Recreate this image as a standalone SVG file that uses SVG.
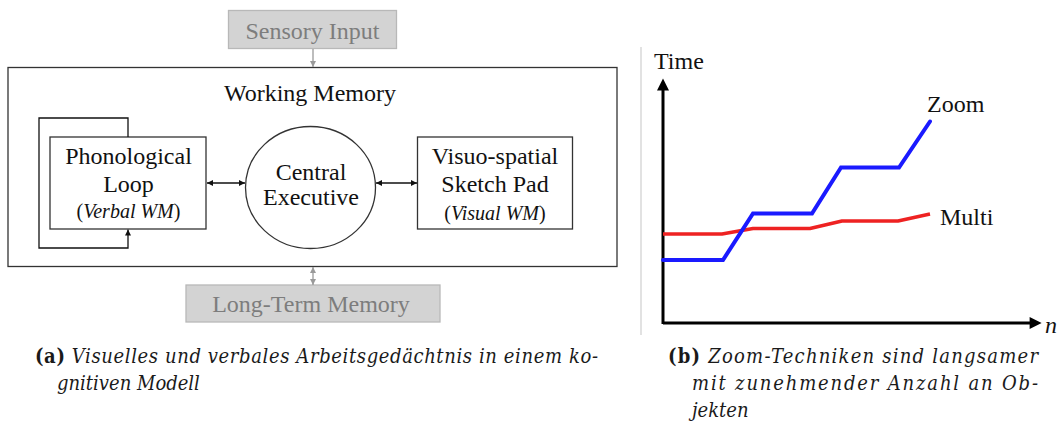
<svg xmlns="http://www.w3.org/2000/svg" width="1062" height="430" viewBox="0 0 1062 430">
  <style>
    .box { fill: #ffffff; stroke: #333333; stroke-width: 1.3; }
    .grey-box { fill: #d3d3d3; stroke: #b8b8b8; stroke-width: 1.3; }
    .lbl { font-family: "Liberation Serif", "Times New Roman", serif; font-size: 24px; fill: #111111; text-anchor: middle; }
    .grey-lbl { font-family: "Liberation Serif", "Times New Roman", serif; font-size: 24px; fill: #7d7d7d; text-anchor: middle; }
    .sub { font-family: "Liberation Serif", "Times New Roman", serif; font-size: 20px; fill: #111111; text-anchor: middle; }
    .it { font-style: italic; }
    .conn { fill: none; stroke: #111111; stroke-width: 1.3; }
    .conn-grey { fill: none; stroke: #9a9a9a; stroke-width: 1.3; }
    .axis { fill: none; stroke: #000000; stroke-width: 3; }
    .plot-lbl { font-family: "Liberation Serif", "Times New Roman", serif; font-size: 24px; fill: #111111; }
    .cap { font-family: "DejaVu Serif Condensed", "DejaVu Serif", serif; font-stretch: condensed; font-size: 20px; fill: #1a1a1a; }
    .cap-b { font-weight: bold; font-style: normal; }
    .cap-i { font-style: italic; }
  </style>
  <defs>
    <marker id="ah" viewBox="0 0 10 10" refX="10" refY="5" markerWidth="6" markerHeight="6" markerUnits="userSpaceOnUse" orient="auto-start-reverse">
      <path d="M0,0 L10,5 L0,10 z" fill="#111111"/>
    </marker>
    <marker id="ah-grey" viewBox="0 0 10 10" refX="10" refY="5" markerWidth="6" markerHeight="6" markerUnits="userSpaceOnUse" orient="auto-start-reverse">
      <path d="M0,0 L10,5 L0,10 z" fill="#9a9a9a"/>
    </marker>
    <marker id="axis-ah" viewBox="0 0 10 10" refX="2" refY="5" markerWidth="14" markerHeight="12" markerUnits="userSpaceOnUse" orient="auto">
      <path d="M0,0 L10,5 L0,10 z" fill="#000000"/>
    </marker>
  </defs>

  <!-- Left panel: working memory model -->
  <g id="working-memory">
    <rect class="box" x="8" y="67.5" width="609" height="199"/>
    <text class="lbl" x="310" y="101">Working Memory</text>
  </g>

  <g id="sensory-input">
    <rect class="grey-box" x="228.5" y="10.5" width="168" height="38"/>
    <text class="grey-lbl" x="312.5" y="39">Sensory Input</text>
  </g>

  <g id="long-term-memory">
    <rect class="grey-box" x="186" y="285" width="254" height="37"/>
    <text class="grey-lbl" x="311" y="312">Long-Term Memory</text>
  </g>

  <g id="phonological-loop">
    <rect class="box" x="50" y="137" width="156" height="92"/>
    <text class="lbl" x="128.5" y="164">Phonological</text>
    <text class="lbl" x="128.5" y="192">Loop</text>
    <text class="sub" x="128.5" y="218">(<tspan class="it">Verbal WM</tspan>)</text>
  </g>

  <g id="central-executive">
    <ellipse class="box" cx="310.5" cy="187.5" rx="65" ry="61"/>
    <text class="lbl" x="311" y="180">Central</text>
    <text class="lbl" x="311" y="205">Executive</text>
  </g>

  <g id="sketch-pad">
    <rect class="box" x="417.5" y="137" width="155" height="92"/>
    <text class="lbl" x="495" y="164">Visuo-spatial</text>
    <text class="lbl" x="495" y="192">Sketch Pad</text>
    <text class="sub" x="495" y="220">(<tspan class="it">Visual WM</tspan>)</text>
  </g>

  <g id="connectors">
    <path class="conn-grey" d="M313,49 V67" marker-end="url(#ah-grey)"/>
    <path class="conn-grey" d="M313,267 V285" marker-start="url(#ah-grey)" marker-end="url(#ah-grey)"/>
    <path class="conn" d="M207,183 H245" marker-start="url(#ah)" marker-end="url(#ah)"/>
    <path class="conn" d="M376,183 H417" marker-start="url(#ah)" marker-end="url(#ah)"/>
    <path class="conn" d="M128,137 V118 H39 V248 H128 V229.5" marker-end="url(#ah)"/>
  </g>

  <!-- Right panel: time over number of objects -->
  <g id="chart">
    <line x1="641" y1="47" x2="641" y2="335" stroke="#cfcfcf" stroke-width="1.2"/>
    <path class="axis" d="M663,324 V88" marker-end="url(#axis-ah)"/>
    <path class="axis" d="M663,323 H1032" marker-end="url(#axis-ah)"/>
    <text class="plot-lbl" x="654" y="69" font-size="22">Time</text>
    <text class="plot-lbl it" x="1045" y="333">n</text>
    <polyline points="663,234 722,234 753,228.5 810,228.5 842,221 898,221 930,214" fill="none" stroke="#ee2222" stroke-width="3.5" stroke-linejoin="round"/>
    <polyline points="663,260 723,260 753,213.5 812,213.5 841,167.5 899,167.5 930,121.5" fill="none" stroke="#1a1aff" stroke-width="4" stroke-linejoin="miter" stroke-linecap="round"/>
    <text class="plot-lbl" x="927" y="112">Zoom</text>
    <text class="plot-lbl" x="940" y="225">Multi</text>
  </g>

  <!-- Captions -->
  <g id="caption-a">
    <text class="cap" x="35" y="363" textLength="563" lengthAdjust="spacing"><tspan class="cap-b">(a)</tspan> <tspan class="cap-i">Visuelles und verbales Arbeitsgedächtnis in einem ko-</tspan></text>
    <text class="cap cap-i" x="57" y="390">gnitiven Modell</text>
  </g>
  <g id="caption-b">
    <text class="cap" x="668" y="363" textLength="370" lengthAdjust="spacing"><tspan class="cap-b">(b)</tspan> <tspan class="cap-i">Zoom-Techniken sind langsamer</tspan></text>
    <text class="cap cap-i" x="692" y="390" textLength="346" lengthAdjust="spacing">mit zunehmender Anzahl an Ob-</text>
    <text class="cap cap-i" x="692" y="417">jekten</text>
  </g>
</svg>
